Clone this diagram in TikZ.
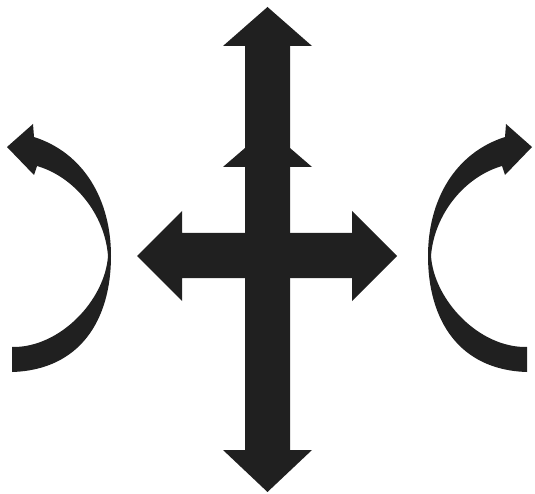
\documentclass[tikz,border=0pt]{standalone}
\definecolor{ink}{HTML}{202020}
\tikzset{shape fill/.style={fill=ink}}
\begin{document}
\begin{tikzpicture}[x=1pt,y=-1pt]
\useasboundingbox (0,0) rectangle (535,494);
% vertical double arrow with second head
\fill[shape fill] (267.5,7) -- (312,46) -- (290,46) -- (290,148) -- (312,167) -- (290,167)
  -- (290,450) -- (312,450) -- (267.5,492) -- (223,450) -- (245,450) -- (245,167)
  -- (223,167) -- (245,148) -- (245,46) -- (223,46) -- cycle;
% horizontal double arrow
\fill[shape fill] (137,256) -- (182,211) -- (182,233) -- (352,233) -- (352,211) -- (397,256)
  -- (352,301) -- (352,278) -- (182,278) -- (182,301) -- cycle;
% left curved arrow
\begin{scope}
\fill[shape fill] (7,147) -- (33,124) -- (34,137)
  .. controls (84,153) and (111,200) .. (111,256)
  .. controls (111,320) and (80,370) .. (12,372)
  -- (12,347)
  .. controls (60,348) and (105,300) .. (108,256)
  .. controls (105,215) and (75,177) .. (37,166)
  -- (34,175) -- cycle;
\end{scope}
% right curved arrow (mirror)
\begin{scope}[xshift=539pt,xscale=-1]
\fill[shape fill] (7,147) -- (33,124) -- (34,137)
  .. controls (84,153) and (111,200) .. (111,256)
  .. controls (111,320) and (80,370) .. (12,372)
  -- (12,347)
  .. controls (60,348) and (105,300) .. (108,256)
  .. controls (105,215) and (75,177) .. (37,166)
  -- (34,175) -- cycle;
\end{scope}
\end{tikzpicture}
\end{document}
